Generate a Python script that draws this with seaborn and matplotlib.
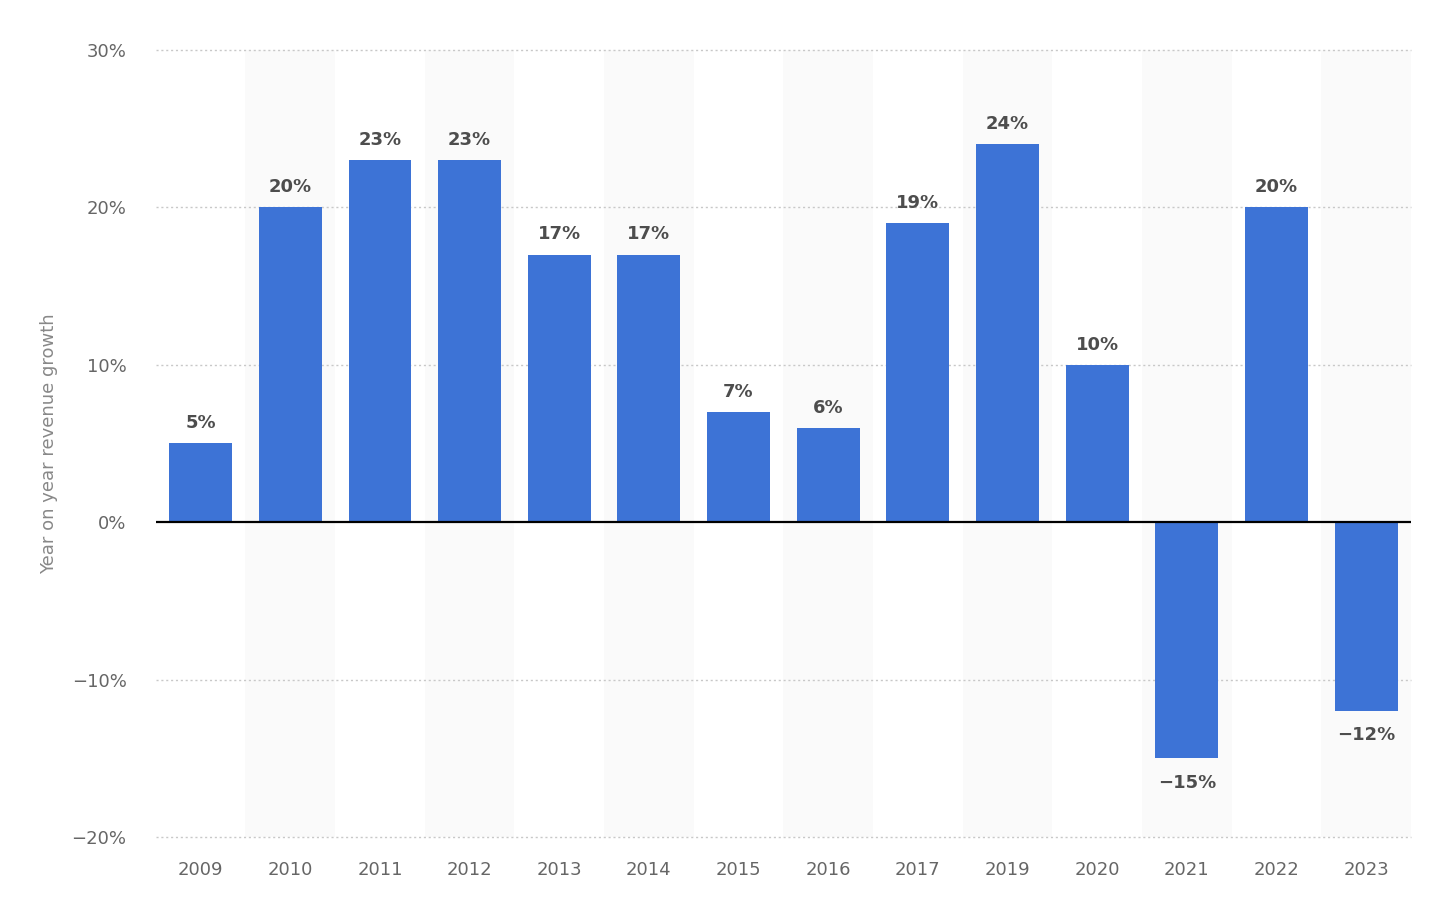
import matplotlib
matplotlib.use("Agg")
import pandas as pd
import numpy as np
import matplotlib.pyplot as plt
import seaborn as sns

years = ['2009', '2010', '2011', '2012', '2013', '2014', '2015', '2016',
         '2017', '2019', '2020', '2021', '2022', '2023']
growth = [5, 20, 23, 23, 17, 17, 7, 6, 19, 24, 10, -15, 20, -12]
y_ticks = [-20, -10, 0, 10, 20, 30]

df = pd.DataFrame({'Year': years, 'Growth': growth})

sns.set_style('white')
plt.rcParams['font.family'] = ['DejaVu Sans']

fig = plt.figure(figsize=(14.42, 9.22), dpi=100)
ax = fig.add_axes([0.108, 0.0922, 0.8705, 0.8536])

# alternating background bands
for i in range(len(years)):
    if i % 2 == 1:
        ax.axvspan(i - 0.5, i + 0.5, color='#fafafa', zorder=0, lw=0)

sns.barplot(x='Year', y='Growth', data=df, color='#3d73d6', width=0.7,
            saturation=1, linewidth=0, ax=ax, zorder=3)

ax.set_xlim(-0.5, len(years) - 0.5)
ax.set_ylim(-20, 30)
ax.set_yticks(y_ticks)
ax.set_yticklabels([f'{t}%'.replace('-', '−') for t in y_ticks])

for t in y_ticks:
    if t != 0:
        ax.axhline(t, color='#c8c8c8', lw=1, ls=(0, (1.5, 2)), zorder=1,
                   clip_on=False)
ax.axhline(0, color='#000000', lw=1.6, zorder=4)

for i, v in enumerate(growth):
    label = f'{v}%'.replace('-', '−')
    if v >= 0:
        ax.annotate(label, (i, v), xytext=(0, 8), textcoords='offset points',
                    ha='center', va='bottom', fontsize=13, fontweight='bold',
                    color='#4d4d4d')
    else:
        ax.annotate(label, (i, v), xytext=(0, -11), textcoords='offset points',
                    ha='center', va='top', fontsize=13, fontweight='bold',
                    color='#4d4d4d')

for s in ax.spines.values():
    s.set_visible(False)
ax.tick_params(axis='both', length=0, colors='#666666', labelsize=13)
ax.tick_params(axis='x', pad=17)
ax.tick_params(axis='y', pad=21)
ax.set_xlabel('')
ax.set_ylabel('Year on year revenue growth', color='#888888', fontsize=13,
              labelpad=10)

fig.savefig('out.png', dpi=100, facecolor='white')
